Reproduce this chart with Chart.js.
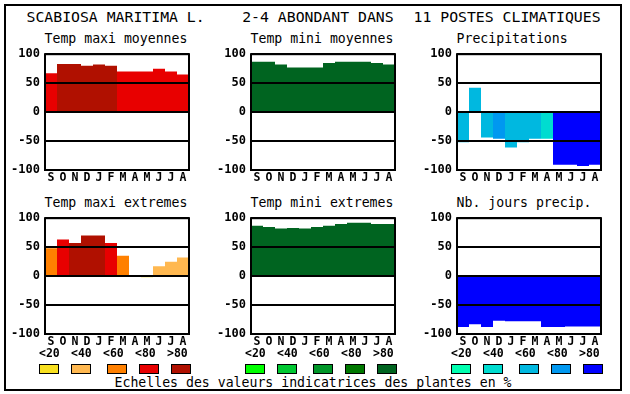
<!DOCTYPE html>
<html><head><meta charset="utf-8">
<script src="https://cdn.jsdelivr.net/npm/chart.js@4.4.1/dist/chart.umd.min.js"></script>
<style>
html,body{margin:0;padding:0;background:#fff;}
#wrap{position:relative;width:630px;height:394px;overflow:hidden;background:#fff;font-family:'DejaVu Sans Mono',monospace;color:#000}
.t{position:absolute;white-space:pre;line-height:1;}
canvas{position:absolute;}
.sw{position:absolute;width:20px;height:10px;box-sizing:border-box;border:1px solid #000;top:364px}
.lb{position:absolute;width:20px;text-align:center;font-weight:bold;font-size:11.5px;line-height:1;top:348.3px;white-space:pre}
</style></head>
<body><div id="wrap">
<div style="position:absolute;left:4px;top:4px;width:618px;height:387px;box-sizing:border-box;border:2px solid #000"></div>
</div>
<script>
// ---- data ----
const months = ['S','O','N','D','J','F','M','A','M','J','J','A'];
const yTicks = [-100, -50, 0, 50, 100];
const legendLabels = ['<20','<40','<60','<80','>80'];

const tmaxMoy    = [67, 83, 83, 80, 82, 80, 70, 70, 70, 75, 70, 65];
const tmaxMoyCls = [3, 4, 4, 4, 4, 4, 3, 3, 3, 3, 3, 3];

const tminMoy    = [87, 87, 82, 77, 77, 77, 85, 87, 87, 87, 85, 82];
const tminMoyCls = [4, 4, 4, 4, 4, 4, 4, 4, 4, 4, 4, 4];

const precip     = [-52, 42, -44, -46, -61, -52, -46, -46, -91, -91, -93, -91];
const precipCls  = [2, 2, 2, 3, 2, 2, 2, 1, 4, 4, 4, 4];

const tmaxExt    = [48, 63, 57, 70, 70, 57, 35, 2, -2, 17, 25, 32];
const tmaxExtCls = [2, 3, 4, 4, 4, 3, 2, 1, 0, 1, 1, 1];

const tminExt    = [87, 85, 82, 83, 82, 85, 87, 90, 92, 92, 90, 90];
const tminExtCls = [4, 4, 4, 4, 4, 4, 4, 4, 4, 4, 4, 4];

const nbJours    = [-88, -83, -88, -77, -78, -78, -78, -88, -88, -87, -87, -87];
const nbJoursCls = [4, 4, 4, 4, 4, 4, 4, 4, 4, 4, 4, 4];

const redPal   = ['#f8e020', '#ffb850', '#ff8000', '#e80000', '#b01000'];
const greenPal = ['#00ff00', '#00c832', '#009628', '#007800', '#006420'];
const bluePal  = ['#00ffb0', '#00dcd0', '#00b8e0', '#0098f0', '#0000ff'];

const titleParts = [['SCABIOSA MARITIMA L.', 26.5], ['2-4 ABONDANT DANS', 242.2], ['11 POSTES CLIMATIQUES', 413.5]];
const legendTitle = 'Echelles des valeurs indicatrices des plantes en %';

const panels = [
  {title:'Temp maxi moyennes', vals:tmaxMoy, cls:tmaxMoyCls, pal:redPal, col:0, row:0},
  {title:'Temp mini moyennes', vals:tminMoy, cls:tminMoyCls, pal:greenPal, col:1, row:0},
  {title:'Precipitations', vals:precip, cls:precipCls, pal:bluePal, col:2, row:0},
  {title:'Temp maxi extremes', vals:tmaxExt, cls:tmaxExtCls, pal:redPal, col:0, row:1},
  {title:'Temp mini extremes', vals:tminExt, cls:tminExtCls, pal:greenPal, col:1, row:1},
  {title:'Nb. jours precip.', vals:nbJours, cls:nbJoursCls, pal:bluePal, col:2, row:1}
];
const legendPals = [redPal, greenPal, bluePal];

// ---- layout ----
const wrap = document.getElementById('wrap');
function addText(txt, x, top, size, weight){
  const d = document.createElement('div');
  d.className = 't';
  d.textContent = txt;
  d.style.left = x + 'px';
  d.style.top = top + 'px';
  d.style.fontSize = size + 'px';
  if (weight) d.style.fontWeight = weight;
  wrap.appendChild(d);
}
titleParts.forEach(([t, x]) => addText(t, x, 10.2, 14.8));
addText(legendTitle, 114.5, 375.5, 13.2);

const frame = {
  id:'frame',
  afterDraw(chart){
    const a = chart.chartArea, c = chart.ctx;
    c.save(); c.strokeStyle = '#000'; c.lineWidth = 2;
    c.strokeRect(a.left, a.top, a.right - a.left, a.bottom - a.top);
    c.restore();
  }
};
const yFont = {family:"'DejaVu Sans Mono'", weight:'bold', size:12};
const xFont = {family:"'DejaVu Sans Mono'", weight:'bold', size:11.5};

panels.forEach(p => {
  const plotLeft = 45 + 206 * p.col, plotTop = 50 + 164 * p.row;
  addText(p.title, plotLeft - 0.5, plotTop - 17.8, 13.2);
  const cv = document.createElement('canvas');
  cv.width = 190; cv.height = 142;
  cv.style.left = (plotLeft - 40) + 'px';
  cv.style.top = (plotTop - 8) + 'px';
  cv.style.width = '190px'; cv.style.height = '142px';
  wrap.appendChild(cv);
  new Chart(cv, {
    type:'bar',
    data:{labels:months, datasets:[{
      data:p.vals, backgroundColor:p.cls.map(i => p.pal[i]),
      borderWidth:0, barPercentage:1, categoryPercentage:1, inflateAmount:0
    }]},
    options:{
      responsive:false, animation:false, devicePixelRatio:1,
      layout:{padding:{top:8, right:6, left:0, bottom:0}},
      plugins:{legend:{display:false}, tooltip:{enabled:false}, title:{display:false}},
      scales:{
        x:{
          grid:{display:false, drawTicks:false}, border:{display:false},
          ticks:{autoSkip:false, maxRotation:0, minRotation:0, padding:1, color:'#000', font:xFont},
          afterFit(s){ s.height = 14; }
        },
        y:{
          min:yTicks[0], max:yTicks[yTicks.length-1],
          afterBuildTicks(s){ s.ticks = yTicks.map(v => ({value:v})); },
          ticks:{padding:5, color:'#000', font:yFont},
          grid:{color:'#000', lineWidth:2, drawTicks:false, z:1},
          border:{display:false},
          afterFit(s){ s.width = 40; }
        }
      }
    },
    plugins:[frame]
  });
});

// legend
const swOff = [0, 32, 68, 100, 132];
const lbOff = [0, 32, 64, 96, 128];
legendPals.forEach((pal, k) => {
  const g = 39 + 206 * k;
  pal.forEach((col, i) => {
    const s = document.createElement('div');
    s.className = 'sw';
    s.style.left = (g + swOff[i]) + 'px';
    s.style.background = col;
    wrap.appendChild(s);
    const l = document.createElement('div');
    l.className = 'lb';
    l.style.left = (g + lbOff[i]) + 'px';
    l.textContent = legendLabels[i];
    wrap.appendChild(l);
  });
});
</script>
</body></html>
